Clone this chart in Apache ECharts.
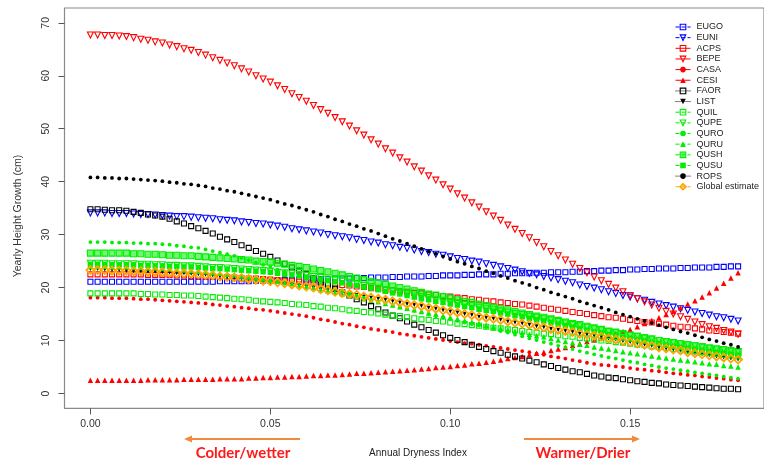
<!DOCTYPE html>
<html>
<head>
<meta charset="utf-8">
<script src="https://cdn.jsdelivr.net/npm/echarts@6/dist/echarts.min.js"></script>
<style>
html,body{margin:0;padding:0;background:#fff;}
#chart{width:764px;height:461px;}
</style>
</head>
<body>
<div id="chart"></div>
<script>
// Annual Dryness Index (x positions of the fitted points)
var xs = [
0.000,0.002,0.004,0.006,0.008,0.010,0.012,0.014,0.016,0.018,
0.020,0.022,0.024,0.026,0.028,0.030,0.032,0.034,0.036,0.038,
0.040,0.042,0.044,0.046,0.048,0.050,0.052,0.054,0.056,0.058,
0.060,0.062,0.064,0.066,0.068,0.070,0.072,0.074,0.076,0.078,
0.080,0.082,0.084,0.086,0.088,0.090,0.092,0.094,0.096,0.098,
0.100,0.102,0.104,0.106,0.108,0.110,0.112,0.114,0.116,0.118,
0.120,0.122,0.124,0.126,0.128,0.130,0.132,0.134,0.136,0.138,
0.140,0.142,0.144,0.146,0.148,0.150,0.152,0.154,0.156,0.158,
0.160,0.162,0.164,0.166,0.168,0.170,0.172,0.174,0.176,0.178,
0.180];

var EUGO = [
21.1,21.1,21.1,21.1,21.1, 21.1,21.1,21.1,21.1,21.1, 21.1,21.1,21.1,21.1,21.1,
21.1,21.1,21.1,21.2,21.2, 21.2,21.2,21.2,21.3,21.3, 21.3,21.3,21.4,21.4,21.5,
21.5,21.5,21.6,21.6,21.7, 21.7,21.7,21.8,21.8,21.9, 21.9,21.9,22.0,22.0,22.1,
22.1,22.1,22.2,22.2,22.3, 22.3,22.3,22.4,22.4,22.5, 22.5,22.5,22.6,22.6,22.7,
22.7,22.7,22.8,22.8,22.9, 22.9,22.9,23.0,23.0,23.1, 23.1,23.2,23.2,23.3,23.3,
23.4,23.4,23.5,23.5,23.6, 23.6,23.6,23.7,23.7,23.8, 23.8,23.8,23.9,23.9,24.0,
24.0];
var EUNI = [
34.1,34.1,34.1,34.0,34.0, 34.0,33.9,33.8,33.8,33.7, 33.6,33.5,33.4,33.4,33.3,
33.2,33.1,33.0,32.8,32.7, 32.6,32.4,32.3,32.1,32.0, 31.8,31.6,31.4,31.1,30.9,
30.7,30.5,30.3,30.0,29.8, 29.6,29.4,29.1,28.9,28.6, 28.4,28.1,27.9,27.6,27.4,
27.1,26.8,26.6,26.3,26.1, 25.8,25.5,25.3,25.0,24.8, 24.5,24.2,23.9,23.6,23.3,
23.0,22.7,22.4,22.1,21.8, 21.5,21.2,20.9,20.5,20.2, 19.9,19.6,19.2,18.9,18.5,
18.2,17.9,17.6,17.2,16.9, 16.6,16.3,16.0,15.7,15.4, 15.1,14.8,14.5,14.3,14.0,
13.7];
var ACPS = [
22.5,22.5,22.5,22.5,22.5, 22.5,22.5,22.5,22.4,22.4, 22.4,22.4,22.3,22.3,22.2,
22.2,22.1,22.1,22.0,22.0, 21.9,21.8,21.7,21.7,21.6, 21.5,21.4,21.3,21.2,21.1,
21.0,20.9,20.8,20.7,20.6, 20.5,20.4,20.2,20.1,19.9, 19.8,19.6,19.5,19.3,19.2,
19.0,18.9,18.7,18.6,18.4, 18.3,18.1,18.0,17.8,17.7, 17.5,17.4,17.2,17.1,16.9,
16.8,16.6,16.4,16.2,16.0, 15.8,15.6,15.4,15.2,15.0, 14.8,14.6,14.4,14.3,14.1,
13.9,13.7,13.5,13.4,13.2, 13.0,12.8,12.6,12.5,12.3, 12.1,11.9,11.8,11.6,11.5,
11.3];
var BEPE = [
67.7,67.7,67.6,67.6,67.5, 67.4,67.2,66.9,66.7,66.4, 66.2,65.8,65.5,65.1,64.8,
64.4,63.9,63.4,62.9,62.4, 61.9,61.3,60.7,60.0,59.4, 58.8,58.1,57.4,56.6,55.9,
55.2,54.4,53.6,52.9,52.1, 51.3,50.5,49.6,48.8,47.9, 47.1,46.2,45.4,44.5,43.7,
42.8,42.0,41.1,40.3,39.4, 38.6,37.7,36.9,36.0,35.2, 34.3,33.5,32.7,31.8,31.0,
30.2,29.4,28.5,27.7,26.8, 26.0,25.2,24.4,23.6,22.8, 22.0,21.3,20.6,19.9,19.2,
18.5,17.9,17.3,16.7,16.1, 15.5,15.0,14.5,14.0,13.5, 13.0,12.6,12.3,11.9,11.6,
11.2];
var CASA = [
18.1,18.1,18.1,18.0,18.0, 18.0,17.9,17.8,17.8,17.7, 17.6,17.5,17.4,17.3,17.2,
17.1,17.0,16.8,16.7,16.5, 16.4,16.2,16.1,15.9,15.8, 15.6,15.4,15.2,15.0,14.8,
14.6,14.3,14.0,13.8,13.5, 13.2,13.0,12.7,12.5,12.2, 12.0,11.8,11.6,11.3,11.1,
10.9,10.7,10.5,10.3,10.1, 9.9,9.7,9.5,9.4,9.2, 9.0,8.8,8.6,8.4,8.2,
8.0,7.8,7.5,7.3,7.0, 6.8,6.6,6.3,6.1,5.8, 5.6,5.4,5.3,5.1,5.0,
4.8,4.6,4.5,4.3,4.2, 4.0,3.8,3.7,3.5,3.4, 3.2,3.1,2.9,2.8,2.6,
2.5];
var CESI = [
2.5,2.5,2.5,2.5,2.5, 2.5,2.5,2.5,2.6,2.6, 2.6,2.6,2.6,2.7,2.7,
2.7,2.7,2.7,2.8,2.8, 2.8,2.8,2.9,2.9,3.0, 3.0,3.1,3.1,3.2,3.2,
3.3,3.4,3.4,3.5,3.5, 3.6,3.7,3.8,3.8,3.9, 4.0,4.1,4.2,4.3,4.4,
4.5,4.6,4.7,4.9,5.0, 5.1,5.3,5.4,5.6,5.7, 5.9,6.1,6.3,6.6,6.8,
7.0,7.3,7.6,7.8,8.1, 8.4,8.7,9.1,9.4,9.8, 10.1,10.5,10.9,11.3,11.7,
12.1,12.6,13.2,13.8,14.3, 14.9,15.5,16.2,16.9,17.5, 18.2,19.0,19.9,20.8,21.8,
22.8];
var FAOR = [
34.8,34.8,34.7,34.6,34.6, 34.5,34.3,34.1,33.8,33.6, 33.4,33.0,32.5,32.1,31.6,
31.2,30.7,30.2,29.6,29.1, 28.6,28.0,27.5,26.9,26.4, 25.8,25.1,24.5,23.8,23.2,
22.5,21.8,21.1,20.5,19.8, 19.1,18.5,17.8,17.2,16.5, 15.9,15.3,14.7,14.2,13.6,
13.0,12.5,12.0,11.5,11.0, 10.5,10.1,9.7,9.2,8.8, 8.4,8.0,7.7,7.3,7.0,
6.6,6.2,5.9,5.5,5.2, 4.8,4.5,4.2,4.0,3.7, 3.4,3.2,3.0,2.9,2.7,
2.5,2.3,2.2,2.0,1.9, 1.7,1.6,1.5,1.4,1.3, 1.2,1.1,1.0,0.9,0.9,
0.8];
var LIST = [
23.5,23.5,23.4,23.3,23.3, 23.2,23.1,23.1,23.0,23.0, 22.9,22.8,22.7,22.7,22.6,
22.5,22.4,22.3,22.1,22.0, 21.9,21.8,21.6,21.5,21.3, 21.2,21.0,20.8,20.6,20.4,
20.2,20.0,19.7,19.5,19.2, 19.0,18.8,18.6,18.3,18.1, 17.9,17.7,17.4,17.2,16.9,
16.7,16.5,16.2,16.0,15.7, 15.5,15.3,15.0,14.8,14.5, 14.3,14.1,13.9,13.6,13.4,
13.2,13.0,12.7,12.5,12.2, 12.0,11.8,11.6,11.3,11.1, 10.9,10.7,10.4,10.2,9.9,
9.7,9.5,9.2,9.0,8.7, 8.5,8.3,8.1,7.8,7.6, 7.4,7.2,7.0,6.8,6.6,
6.4];
var QUIL = [
18.9,18.9,18.9,18.9,18.9, 18.9,18.9,18.8,18.8,18.7, 18.7,18.6,18.6,18.5,18.5,
18.4,18.3,18.2,18.1,18.0, 17.9,17.8,17.7,17.5,17.4, 17.3,17.2,17.1,16.9,16.8,
16.7,16.5,16.4,16.2,16.1, 15.9,15.7,15.6,15.4,15.3, 15.1,14.9,14.7,14.6,14.4,
14.2,14.0,13.9,13.7,13.6, 13.4,13.2,13.1,12.9,12.8, 12.6,12.4,12.3,12.1,12.0,
11.8,11.6,11.5,11.3,11.2, 11.0,10.8,10.7,10.5,10.4, 10.2,10.0,9.9,9.7,9.6,
9.4,9.2,9.1,8.9,8.8, 8.6,8.4,8.3,8.1,8.0, 7.8,7.6,7.5,7.3,7.2,
7.0];
var QUPE = [
24.6,24.6,24.6,24.5,24.5, 24.5,24.5,24.4,24.4,24.3, 24.3,24.2,24.2,24.1,24.1,
24.0,23.9,23.8,23.8,23.7, 23.6,23.5,23.4,23.3,23.2, 23.1,22.9,22.8,22.6,22.5,
22.3,22.1,21.9,21.6,21.4, 21.2,20.9,20.7,20.4,20.2, 19.9,19.6,19.4,19.1,18.9,
18.6,18.3,18.1,17.8,17.6, 17.3,17.1,16.8,16.6,16.3, 16.1,15.9,15.6,15.4,15.1,
14.9,14.6,14.4,14.1,13.9, 13.6,13.3,13.0,12.8,12.5, 12.2,12.0,11.7,11.5,11.2,
11.0,10.8,10.5,10.3,10.0, 9.8,9.6,9.4,9.2,9.0, 8.8,8.6,8.4,8.3,8.1,
7.9];
var QURO = [
28.6,28.6,28.6,28.5,28.5, 28.5,28.4,28.4,28.3,28.3, 28.2,28.1,27.9,27.8,27.6,
27.5,27.2,26.9,26.6,26.3, 26.0,25.6,25.2,24.7,24.3, 23.9,23.4,23.0,22.5,22.1,
21.6,21.1,20.7,20.2,19.8, 19.3,18.9,18.5,18.1,17.7, 17.3,17.0,16.6,16.3,15.9,
15.6,15.3,15.0,14.6,14.3, 14.0,13.7,13.4,13.1,12.8, 12.5,12.2,11.8,11.5,11.1,
10.8,10.4,10.1,9.7,9.4, 9.0,8.7,8.4,8.0,7.7, 7.4,7.1,6.8,6.6,6.3,
6.0,5.8,5.5,5.3,5.0, 4.8,4.6,4.4,4.2,4.0, 3.8,3.6,3.4,3.2,3.0,
2.8];
var QURU = [
24.0,24.0,24.0,23.9,23.9, 23.9,23.8,23.8,23.7,23.7, 23.6,23.5,23.4,23.3,23.2,
23.1,23.0,22.8,22.7,22.5, 22.4,22.2,22.0,21.8,21.6, 21.4,21.2,20.9,20.7,20.4,
20.2,19.9,19.6,19.4,19.1, 18.8,18.5,18.2,17.9,17.6, 17.3,17.0,16.7,16.4,16.1,
15.8,15.5,15.2,15.0,14.7, 14.4,14.1,13.8,13.5,13.2, 12.9,12.6,12.3,12.1,11.8,
11.5,11.2,10.9,10.7,10.4, 10.1,9.8,9.6,9.3,9.1, 8.8,8.6,8.4,8.1,7.9,
7.7,7.5,7.3,7.1,6.9, 6.7,6.5,6.3,6.2,6.0, 5.8,5.6,5.5,5.3,5.2,
5.0];
var QUSH = [
26.5,26.5,26.5,26.5,26.5, 26.5,26.4,26.4,26.3,26.3, 26.2,26.1,26.1,26.0,26.0,
25.9,25.8,25.7,25.6,25.5, 25.4,25.3,25.2,25.0,24.9, 24.8,24.6,24.4,24.2,24.0,
23.8,23.5,23.2,23.0,22.7, 22.4,22.1,21.8,21.5,21.2, 20.9,20.6,20.3,20.0,19.7,
19.4,19.1,18.8,18.6,18.3, 18.0,17.7,17.4,17.2,16.9, 16.6,16.3,16.0,15.8,15.5,
15.2,14.9,14.6,14.4,14.1, 13.8,13.5,13.2,13.0,12.7, 12.4,12.1,11.8,11.6,11.3,
11.0,10.8,10.5,10.3,10.0, 9.8,9.6,9.4,9.2,9.0, 8.8,8.6,8.4,8.2,8.0,
7.8];
var QUSU = [
24.4,24.4,24.4,24.3,24.3, 24.3,24.3,24.2,24.2,24.1, 24.1,24.0,24.0,23.9,23.9,
23.8,23.7,23.6,23.6,23.5, 23.4,23.3,23.2,23.1,23.0, 22.9,22.7,22.5,22.4,22.2,
22.0,21.8,21.6,21.3,21.1, 20.9,20.6,20.4,20.1,19.9, 19.6,19.3,19.0,18.8,18.5,
18.2,17.9,17.7,17.4,17.2, 16.9,16.7,16.4,16.2,15.9, 15.7,15.5,15.2,15.0,14.7,
14.5,14.2,13.9,13.7,13.4, 13.1,12.8,12.5,12.2,11.9, 11.6,11.4,11.1,10.9,10.6,
10.4,10.1,9.9,9.6,9.4, 9.1,8.9,8.7,8.5,8.3, 8.1,7.9,7.7,7.6,7.4,
7.2];
var ROPS = [
40.8,40.8,40.7,40.7,40.6, 40.6,40.5,40.4,40.3,40.2, 40.1,39.9,39.8,39.6,39.5,
39.3,39.1,38.8,38.6,38.3, 38.1,37.8,37.5,37.2,36.9, 36.6,36.2,35.8,35.5,35.1,
34.7,34.3,33.8,33.4,32.9, 32.5,32.0,31.6,31.1,30.7, 30.2,29.7,29.2,28.8,28.3,
27.8,27.3,26.8,26.4,25.9, 25.4,24.9,24.5,24.0,23.6, 23.1,22.7,22.2,21.8,21.3,
20.9,20.5,20.0,19.6,19.1, 18.7,18.3,17.9,17.4,17.0, 16.6,16.2,15.8,15.3,14.9,
14.5,14.1,13.7,13.3,12.9, 12.5,12.1,11.7,11.4,11.0, 10.6,10.2,9.9,9.5,9.2,
8.8];
var GLOBAL = [
23.3,23.3,23.3,23.2,23.2, 23.2,23.1,23.1,23.0,23.0, 22.9,22.8,22.7,22.7,22.6,
22.5,22.4,22.3,22.1,22.0, 21.9,21.8,21.6,21.5,21.3, 21.2,21.0,20.8,20.6,20.4,
20.2,20.0,19.7,19.5,19.2, 19.0,18.8,18.6,18.3,18.1, 17.9,17.7,17.4,17.2,16.9,
16.7,16.5,16.2,16.0,15.7, 15.5,15.3,15.0,14.8,14.5, 14.3,14.1,13.9,13.6,13.4,
13.2,13.0,12.7,12.5,12.2, 12.0,11.8,11.6,11.3,11.1, 10.9,10.7,10.4,10.2,9.9,
9.7,9.5,9.2,9.0,8.7, 8.5,8.3,8.1,7.8,7.6, 7.4,7.2,7.0,6.8,6.6,
6.4];

var xTicks = [0, 0.05, 0.10, 0.15];
var yTicks = [0, 10, 20, 30, 40, 50, 60, 70];

var BLUE = '#0000FF', RED = '#FF0000', BLACK = '#000000', GREEN = '#00EE00', ORANGE = '#FFA500';
var FONT = '"Liberation Sans", Arial, sans-serif';

// name, values, color, symbol, rotate, filled, size, legend line type
var defs = [
  ['EUGO', EUGO, BLUE,  'rect', 0, 'open', 5, 'dashed'],
  ['EUNI', EUNI, BLUE,  'triangle', 180, 'open', 6, 'dashed'],
  ['ACPS', ACPS, RED,   'rect', 0, 'open', 5, 'solid'],
  ['BEPE', BEPE, RED,   'triangle', 180, 'open', 6, 'solid'],
  ['CASA', CASA, RED,   'circle', 0, 'fill', 3.8, 'solid'],
  ['CESI', CESI, RED,   'triangle', 0, 'fill', 5.5, 'solid'],
  ['FAOR', FAOR, BLACK, 'rect', 0, 'open', 5, 'dotted'],
  ['LIST', LIST, BLACK, 'triangle', 180, 'fill', 4, 'dotted'],
  ['QUIL', QUIL, GREEN, 'rect', 0, 'open', 5, 'dashed'],
  ['QUPE', QUPE, GREEN, 'triangle', 180, 'open', 6, 'dashed'],
  ['QURO', QURO, GREEN, 'circle', 0, 'fill', 3.8, 'dashed'],
  ['QURU', QURU, GREEN, 'triangle', 0, 'fill', 5.5, 'dashed'],
  ['QUSH', QUSH, GREEN, 'rect', 0, 'half', 6, 'dashed'],
  ['QUSU', QUSU, GREEN, 'rect', 0, 'fill', 5.5, 'dashed'],
  ['ROPS', ROPS, BLACK, 'circle', 0, 'fill', 3.8, 'dotted'],
  ['Global estimate', GLOBAL, ORANGE, 'diamond', 0, 'open', 8, 'dashed']
];

function itemStyleFor(d) {
  var c = d[2];
  if (d[5] === 'open') return { color: 'rgba(255,255,255,0)', borderColor: c, borderWidth: d[0] === 'Global estimate' ? 1.8 : 1.1 };
  if (d[5] === 'half') return { color: 'rgba(0,238,0,0.55)', borderColor: c, borderWidth: 1.1 };
  return { color: c, borderWidth: 0 };
}

var series = defs.map(function (d) {
  var vals = d[1];
  return {
    name: d[0],
    type: 'line',
    data: xs.map(function (x, i) { return [x, vals[i]]; }),
    symbol: d[3],
    symbolRotate: d[4],
    symbolSize: d[6],
    showSymbol: true,
    showAllSymbol: true,
    itemStyle: itemStyleFor(d),
    lineStyle: { color: d[2], opacity: 0, width: 1 },
    silent: true,
    emphasis: { disabled: true },
    animation: false
  };
});

var legendData = defs.map(function (d) {
  var st = itemStyleFor(d);
  if (d[0] === 'LIST') st = { color: BLACK, borderWidth: 0 };
  return {
    name: d[0],
    itemStyle: st,
    lineStyle: { color: d[2], opacity: 1, width: 1, type: d[7] }
  };
});

var chart = echarts.init(document.getElementById('chart'), null, { renderer: 'canvas' });
chart.setOption({
  animation: false,
  backgroundColor: '#ffffff',
  grid: {
    left: 64.5, top: 8, right: -13, bottom: 52.7,
    show: true, borderColor: '#8a8a8a', borderWidth: 1.2, backgroundColor: 'transparent'
  },
  xAxis: {
    type: 'value', min: -0.0072, max: 0.1872,
    axisLine: { show: false, onZero: false },
    splitLine: { show: false },
    axisTick: { show: true, customValues: xTicks, length: 6, lineStyle: { color: '#555', width: 1 } },
    axisLabel: {
      customValues: xTicks, margin: 10, fontSize: 10.5, color: '#333', fontFamily: FONT,
      formatter: function (v) { return v.toFixed(2); }
    }
  },
  yAxis: {
    type: 'value', min: -2.8, max: 72.8,
    axisLine: { show: false, onZero: false },
    splitLine: { show: false },
    axisTick: { show: true, customValues: yTicks, length: 6, lineStyle: { color: '#555', width: 1 } },
    axisLabel: { customValues: yTicks, rotate: 90, margin: 13, fontSize: 10.5, color: '#333', fontFamily: FONT }
  },
  legend: {
    orient: 'vertical', left: 670, top: 17,
    itemWidth: 15, itemHeight: 7, itemGap: 0.65,
    selectedMode: false,
    textStyle: { fontSize: 9, lineHeight: 10, color: '#222', fontFamily: FONT, padding: [0, 0, 0, 1] },
    data: legendData
  },
  graphic: [
    { type: 'text', x: 18, y: 216, rotation: Math.PI / 2,
      style: { text: 'Yearly Height Growth (cm)', fontSize: 10.5, fontFamily: FONT, fill: '#333', textAlign: 'center', textVerticalAlign: 'middle' } },
    { type: 'text', x: 418, y: 453,
      style: { text: 'Annual Dryness Index', fontSize: 10, fontFamily: FONT, fill: '#222', textAlign: 'center', textVerticalAlign: 'middle' } },
    { type: 'text', x: 243, y: 453,
      style: { text: 'Colder/wetter', fontSize: 15, fontWeight: 'bold', fontFamily: 'Lato, "Open Sans", sans-serif', fill: '#FF1A1A', textAlign: 'center', textVerticalAlign: 'middle' } },
    { type: 'text', x: 583, y: 453,
      style: { text: 'Warmer/Drier', fontSize: 15, fontWeight: 'bold', fontFamily: 'Lato, "Open Sans", sans-serif', fill: '#FF1A1A', textAlign: 'center', textVerticalAlign: 'middle' } },
    { type: 'line', shape: { x1: 300, y1: 439, x2: 190, y2: 439 }, style: { stroke: '#F08A3C', lineWidth: 1.8 } },
    { type: 'polygon', shape: { points: [[184, 439], [192, 435.5], [192, 442.5]] }, style: { fill: '#F08A3C' } },
    { type: 'line', shape: { x1: 524, y1: 439, x2: 634, y2: 439 }, style: { stroke: '#F08A3C', lineWidth: 1.8 } },
    { type: 'polygon', shape: { points: [[640, 439], [632, 435.5], [632, 442.5]] }, style: { fill: '#F08A3C' } }
  ],
  series: series
});
</script>
</body>
</html>
